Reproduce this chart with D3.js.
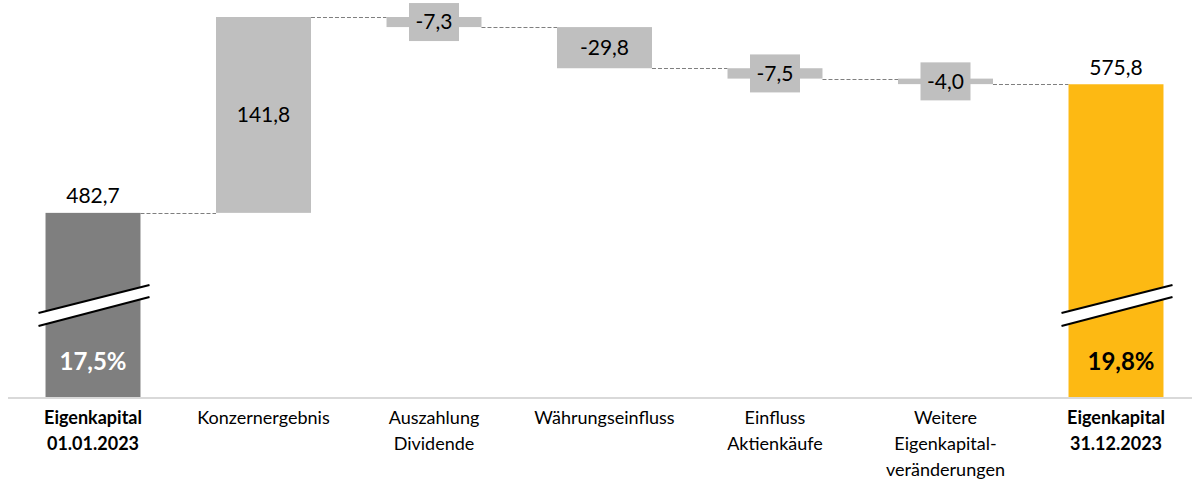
<!DOCTYPE html>
<html>
<head>
<meta charset="utf-8">
<script src="https://cdn.jsdelivr.net/npm/d3@7"></script>
<style>
  body { margin: 0; background: #fff; }
  text { font-family: Lato, "Open Sans", sans-serif; }
</style>
</head>
<body>
<script>
// Daten
const categories = ['Eigenkapital\n01.01.2023', 'Konzernergebnis', 'Auszahlung\nDividende', 'Währungseinfluss',
  'Einfluss\nAktienkäufe', 'Weitere\nEigenkapital-\nveränderungen', 'Eigenkapital\n31.12.2023'];
const values = [482.7, 141.8, -7.3, -29.8, -7.5, -4.0, 575.8];
const kinds = ['start', 'delta', 'delta', 'delta', 'delta', 'delta', 'end'];
const shares = ['17,5%', '', '', '', '', '', '19,8%'];

const width = 1192, height = 482;
const baseY = 397;
const colors = { start: '#7f7f7f', delta: '#bfbfbf', end: '#fdb913' };

const de = d3.formatLocale({ decimal: ',', thousands: '.', grouping: [3], currency: ['', ' €'], minus: '-' });
const fmt = de.format('.1f');

// Wasserfall aufbauen
let run = 0;
const bars = categories.map((c, i) => {
  let lo, hi;
  if (kinds[i] === 'delta') {
    lo = Math.min(run, run + values[i]);
    hi = Math.max(run, run + values[i]);
    run += values[i];
  } else {
    run = values[i];
    lo = null; hi = values[i];
  }
  return { cat: c, value: values[i], kind: kinds[i], lo, hi, level: run, share: shares[i] };
});

const svg = d3.select('body').append('svg')
  .attr('width', width).attr('height', height);

const x = d3.scaleBand().domain(categories).range([7.75, 1201.25]).paddingInner(0.443).paddingOuter(0.2215);
// unterbrochene Achse: unterer Bereich ausgeblendet
const y = d3.scaleLinear().domain([349.4, 624.5]).range([baseY, 17]);

// Achse
svg.append('line')
  .attr('x1', 8).attr('x2', 1192).attr('y1', baseY + 1).attr('y2', baseY + 1)
  .attr('stroke', '#d9d9d9').attr('stroke-width', 2);

// Verbindungslinien
for (let i = 0; i < bars.length - 1; i++) {
  const ly = Math.round(y(bars[i].level)) + 0.5;
  svg.append('line')
    .attr('x1', x(bars[i].cat) + x.bandwidth()).attr('x2', x(bars[i + 1].cat))
    .attr('y1', ly).attr('y2', ly)
    .attr('stroke', '#7f7f7f').attr('stroke-width', 1).attr('stroke-dasharray', '4,2');
}

// Balken
svg.selectAll('.bar').data(bars).enter().append('rect')
  .attr('class', 'bar')
  .attr('x', d => x(d.cat))
  .attr('width', x.bandwidth())
  .attr('y', d => y(d.hi))
  .attr('height', d => (d.lo === null ? baseY : y(d.lo)) - y(d.hi))
  .attr('fill', d => colors[d.kind]);

// Bruchzeichen
bars.filter(d => d.kind !== 'delta').forEach(d => {
  const x0 = x(d.cat) - 7, x1 = x(d.cat) + x.bandwidth() + 9;
  svg.append('path')
    .attr('d', `M${x0},313 L${x1},285 L${x1},297 L${x0},326 Z`)
    .attr('fill', '#fff');
  [[313, 285], [326, 297]].forEach(([a, b]) => {
    svg.append('line')
      .attr('x1', x0).attr('y1', a).attr('x2', x1).attr('y2', b)
      .attr('stroke', '#000').attr('stroke-width', 2);
  });
});

// Werte
const cx = d => x(d.cat) + x.bandwidth() / 2;
bars.forEach(d => {
  if (d.kind === 'delta') {
    const my = (y(d.lo) + y(d.hi)) / 2;
    if (y(d.lo) - y(d.hi) < 38) {
      svg.append('rect')
        .attr('x', cx(d) - 25).attr('y', my - 19)
        .attr('width', 50).attr('height', 38)
        .attr('fill', colors.delta);
    }
    svg.append('text')
      .attr('x', cx(d)).attr('y', my).attr('dy', '0.35em')
      .attr('text-anchor', 'middle').attr('font-size', 21).attr('fill', '#000')
      .text(fmt(d.value));
  } else {
    svg.append('text')
      .attr('x', cx(d)).attr('y', y(d.hi) - 17).attr('dy', '0.35em')
      .attr('text-anchor', 'middle').attr('font-size', 21).attr('fill', '#000')
      .text(fmt(d.value));
    svg.append('text')
      .attr('x', cx(d) + (d.kind === 'end' ? 5 : 0)).attr('y', 362).attr('dy', '0.35em')
      .attr('text-anchor', 'middle').attr('font-size', 24).attr('font-weight', 'bold')
      .attr('fill', d.kind === 'start' ? '#fff' : '#000')
      .text(d.share);
  }
});

// Kategorien
svg.selectAll('.cat').data(bars).enter().append('text')
  .attr('class', 'cat')
  .attr('x', cx)
  .attr('y', 418)
  .attr('text-anchor', 'middle').attr('font-size', 18)
  .attr('font-weight', d => d.kind === 'delta' ? 'normal' : 'bold')
  .attr('fill', '#000')
  .each(function (d) {
    d3.select(this).selectAll('tspan').data(d.cat.split('\n')).enter().append('tspan')
      .attr('x', cx(d)).attr('dy', (t, i) => i === 0 ? '0.35em' : 26)
      .text(t => t);
  });
</script>
</body>
</html>
